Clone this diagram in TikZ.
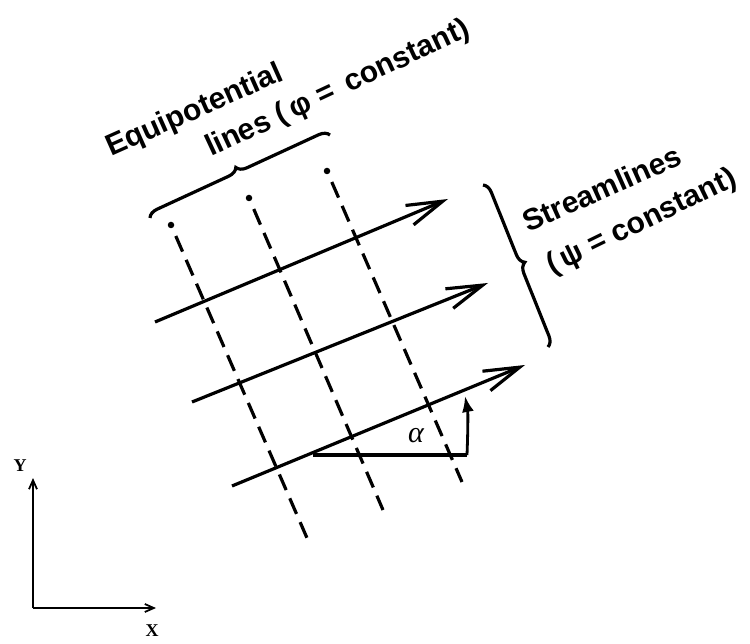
\documentclass[tikz,border=0pt]{standalone}
\usepackage{fontspec}
\setmainfont{Liberation Sans}
\newfontfamily\axfont{Liberation Serif}
\usetikzlibrary{arrows.meta,decorations.pathreplacing,calc}
\begin{document}
\begin{tikzpicture}[x=1pt,y=-1pt,
  stream/.style={line width=3.2pt,-{Straight Barb[length=36pt,width=21pt,line width=3.2pt]}},
  equi/.style={line width=3.2pt,dash pattern=on 17pt off 9pt},
  equidot/.style={fill=black,draw=none,circle,minimum size=6.5pt,inner sep=0pt},
  bracestyle/.style={line width=3.2pt,decorate,decoration={brace,amplitude=10pt}},
  lbl/.style={font=\fontsize{30}{34}\selectfont\bfseries,anchor=base west,inner sep=0pt},
  axis/.style={line width=1.8pt,-{Straight Barb[length=9pt,width=8pt,line width=1.8pt]}},
  axlbl/.style={font=\axfont\fontsize{18}{20}\selectfont\bfseries,inner sep=0pt},
  anglearrow/.style={line width=2.8pt,-{Latex[length=16pt,width=12pt]}}
]
\useasboundingbox (0,0) rectangle (750,644);

% streamlines
\coordinate (a1) at (155,322); \coordinate (a2) at (448,199);
\coordinate (b1) at (192,402); \coordinate (b2) at (488,283);
\coordinate (c1) at (232,486); \coordinate (c2) at (525,365);
\draw[stream] (a1) -- (a2);
\draw[stream] (b1) -- (b2);
\draw[stream] (c1) -- (c2);

% equipotential lines
\coordinate (e1s) at (171,225); \coordinate (e1e) at (307,538);
\coordinate (e2s) at (249,198); \coordinate (e2e) at (383,510);
\coordinate (e3s) at (327,171); \coordinate (e3e) at (462,482);
\foreach \i in {1,2,3}{
  \node[equidot] (d\i) at (e\i s) {};
  \draw[equi] ($(e\i s)!12pt!(e\i e)$) -- (e\i e);
}

% angle
\coordinate (p0) at (313,455);
\coordinate (p1) at (467,455);
\coordinate (p2) at (465,396);
\draw[line width=3.2pt] (p0) -- (p1);
\draw[anglearrow] (p1) .. controls (468,430) and (468,412) .. (p2);
\node[font=\axfont\itshape\fontsize{30}{34}\selectfont,inner sep=0pt] (alpha) at (416,436) {α};

% braces
\coordinate (tb1) at (150,218); \coordinate (tb2) at (330,135);
\draw[bracestyle] (tb1) -- (tb2);
\coordinate (rb1) at (483,185); \coordinate (rb2) at (548,347);
\draw[bracestyle] (rb1) -- (rb2);

% labels
\node[lbl,rotate=24] (eq) at (111,157) {Equipotential};
\node[lbl,rotate=25] (ln) at (211,157) {lines (\,φ = \,constant)};
\node[lbl,rotate=24] (sl) at (528,233) {Streamlines};
\node[lbl,rotate=26] (ps) at (552,275) {(\,ψ = constant)};

% axes
\coordinate (o) at (33,608);
\coordinate (yt) at (33,478);
\coordinate (xt) at (156,608);
\draw[axis] (o) -- (yt);
\draw[axis] (o) -- (xt);
\node[axlbl] (ylab) at (20,466) {Y};
\node[axlbl] (xlab) at (152,631) {X};
\end{tikzpicture}
\end{document}
